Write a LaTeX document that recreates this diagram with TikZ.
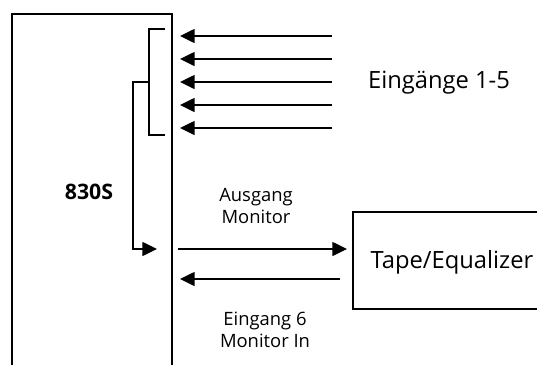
\documentclass[tikz,border=0pt]{standalone}
\usepackage{fontspec}
\setmainfont{Open Sans}
\usetikzlibrary{arrows.meta}
\begin{document}
\begin{tikzpicture}[x=0.75pt,y=-0.75pt,
  wire/.style={line width=1.1pt},
  arr/.style={wire,-{Triangle[length=11pt,width=10.5pt]}},
  lbl/.style={inner sep=0pt,align=center,font=\fontsize{13.8}{16.5}\selectfont},
  big/.style={inner sep=0pt,font=\fontsize{17.8}{21}\selectfont}]
\useasboundingbox (0,0) rectangle (537,365);
\begin{scope}
\clip (0,0) rectangle (537,365);
% main box (open bottom)
\coordinate (mbl) at (12,380);
\coordinate (mtl) at (12,14);
\coordinate (mtr) at (172,14);
\coordinate (mbr) at (172,380);
\draw[wire] (mbl) -- (mtl) -- (mtr) -- (mbr);
% tape box (open right)
\coordinate (ttr) at (550,212);
\coordinate (ttl) at (353,212);
\coordinate (tbl) at (353,309);
\coordinate (tbr) at (550,309);
\draw[wire] (ttr) -- (ttl) -- (tbl) -- (tbr);
\end{scope}
% inputs
\foreach \i/\y in {1/36,2/59,3/82,4/105,5/128}{
  \coordinate (in\i s) at (332,\y);
  \coordinate (in\i e) at (180,\y);
  \draw[arr] (in\i s) -- (in\i e);
}
% bracket
\coordinate (bt) at (165,29);
\coordinate (btv) at (149,29);
\coordinate (bbv) at (149,135);
\coordinate (bb) at (165,135);
\coordinate (bm) at (149,82);
\coordinate (sel) at (133,82);
\coordinate (seld) at (133,249);
\coordinate (selt) at (157,249);
\draw[wire] (bt) -- (btv) -- (bbv) -- (bb);
\draw[arr] (bm) -- (sel) -- (seld) -- (selt);
% monitor connections
\coordinate (outs) at (178,249);
\coordinate (oute) at (347,249);
\coordinate (ins) at (340,279);
\coordinate (ine) at (180,279);
\draw[arr] (outs) -- (oute);
\draw[arr] (ins) -- (ine);
% labels
\node[lbl,font=\fontsize{16}{18}\bfseries] (dev) at (89,192) {830S};
\node[big] (eing) at (439,83) {Eingänge 1-5};
\node[big] (tape) at (452,262) {Tape/Equalizer};
\node[lbl] (aus) at (256,206) {Ausgang\\Monitor};
\node[lbl] (ein6) at (265,330) {Eingang 6\\Monitor In};
\end{tikzpicture}
\end{document}
